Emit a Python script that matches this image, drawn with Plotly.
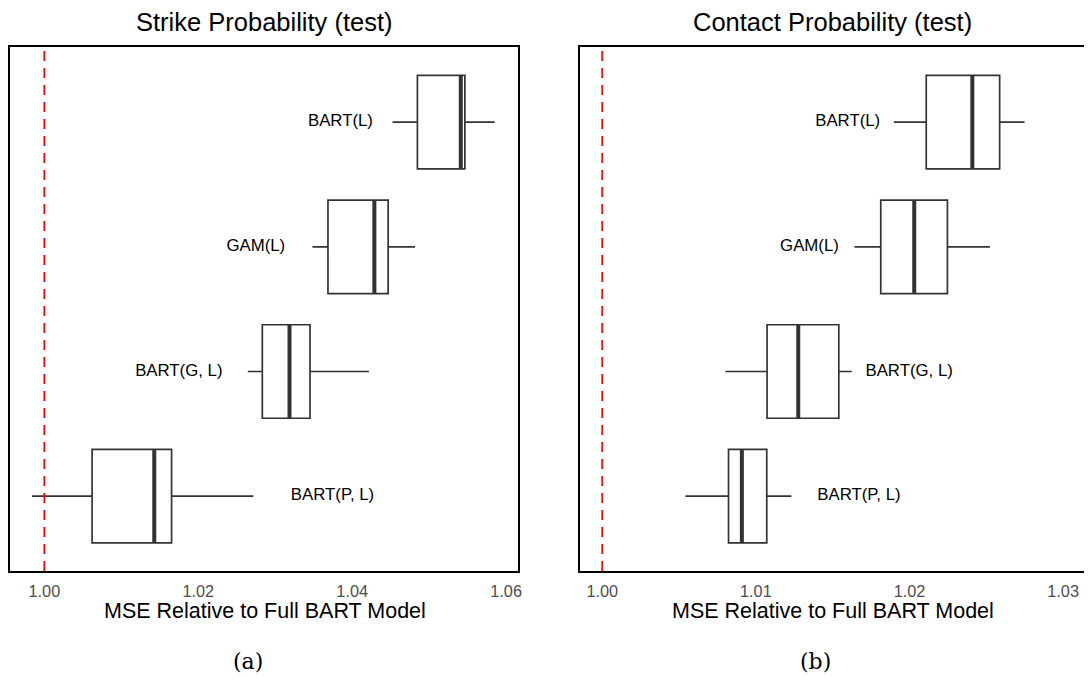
import plotly.graph_objects as go

# ---------------- data ----------------
categories = ["BART(P, L)", "BART(G, L)", "GAM(L)", "BART(L)"]  # bottom -> top
cat_pos = [1, 2, 3, 4]

strike_lower = [0.99839, 1.02644, 1.03484, 1.04525]
strike_q1 = [1.00620, 1.02832, 1.03685, 1.04847]
strike_median = [1.01428, 1.03185, 1.04288, 1.05411]
strike_q3 = [1.01653, 1.03452, 1.04467, 1.05464]
strike_upper = [1.02716, 1.04217, 1.04816, 1.05852]
strike_label_x = [1.03744, 1.01747, 1.02748, 1.03847]

contact_lower = [1.00542, 1.00802, 1.01642, 1.01898]
contact_q1 = [1.00822, 1.01073, 1.01813, 1.02109]
contact_median = [1.00909, 1.01276, 1.02031, 1.02409]
contact_q3 = [1.01071, 1.01540, 1.02247, 1.02587]
contact_upper = [1.01231, 1.01624, 1.02524, 1.02749]
contact_label_x = [1.01671, 1.01998, 1.01349, 1.01598]

strike_ticks = [1.00, 1.02, 1.04, 1.06]
strike_ticktext = ["1.00", "1.02", "1.04", "1.06"]
contact_ticks = [1.00, 1.01, 1.02, 1.03]
contact_ticktext = ["1.00", "1.01", "1.02", "1.03"]

reference_mse = 1.0

panel_titles = ["Strike Probability (test)", "Contact Probability (test)"]
x_title = "MSE Relative to Full BART Model"
sub_captions = ["(a)", "(b)"]

# ---------------- figure ----------------
W, H = 1088, 678
BOX_W = 0.75
BOX_COLOR = "#333333"
FONT = "Liberation Sans, Arial, Helvetica, sans-serif"

fig = go.Figure()

panels = [
    dict(xa="x", ya="y", lo=strike_lower, q1=strike_q1, md=strike_median,
         q3=strike_q3, up=strike_upper, lab=strike_label_x),
    dict(xa="x2", ya="y2", lo=contact_lower, q1=contact_q1, md=contact_median,
         q3=contact_q3, up=contact_upper, lab=contact_label_x),
]

for p in panels:
    fig.add_trace(go.Box(
        y=cat_pos, q1=p["q1"], median=p["md"], q3=p["q3"],
        lowerfence=p["lo"], upperfence=p["up"],
        orientation="h", width=BOX_W, whiskerwidth=0,
        fillcolor="white", line=dict(color=BOX_COLOR, width=1.7),
        boxpoints=False, showlegend=False, hoverinfo="skip",
        xaxis=p["xa"], yaxis=p["ya"],
    ))
    # thick median lines (ggplot fatten)
    mx, my = [], []
    for c, m in zip(cat_pos, p["md"]):
        mx += [m, m, None]
        my += [c - BOX_W / 2, c + BOX_W / 2, None]
    fig.add_trace(go.Scatter(
        x=mx, y=my, mode="lines", line=dict(color=BOX_COLOR, width=4),
        showlegend=False, hoverinfo="skip", xaxis=p["xa"], yaxis=p["ya"],
    ))
    # category labels
    fig.add_trace(go.Scatter(
        x=p["lab"], y=cat_pos, mode="text", text=categories,
        textfont=dict(family=FONT, size=16.8, color="black"),
        textposition="middle center",
        showlegend=False, hoverinfo="skip", xaxis=p["xa"], yaxis=p["ya"],
    ))
    # reference line
    fig.add_shape(type="line", xref=p["xa"], yref=p["ya"] + " domain",
                  x0=reference_mse, x1=reference_mse, y0=0, y1=1,
                  line=dict(color="red", width=1.8, dash="10px,7px"), layer="above")

y_dom = [(H - 571) / H, (H - 47.3) / H]
axis_common = dict(showgrid=False, zeroline=False, ticks="",
                   tickfont=dict(family=FONT, size=16.3, color="#4d4d4d"))

fig.update_layout(
    width=W, height=H,
    margin=dict(l=0, r=0, t=0, b=0),
    paper_bgcolor="white", plot_bgcolor="white",
    hovermode=False,
    xaxis=dict(domain=[10 / W, 519.5 / W], range=[0.99553, 1.06149],
               tickvals=strike_ticks, ticktext=strike_ticktext,
               showline=True, linecolor="black", linewidth=2, mirror=True,
               ticklabelstandoff=4, anchor="y", **axis_common),
    yaxis=dict(domain=y_dom, range=[0.4, 4.6], showticklabels=False,
               showline=True, linecolor="black", linewidth=2, mirror=True,
               anchor="x", **axis_common),
    xaxis2=dict(domain=[582 / W, 1.0], range=[0.998544, 1.03136],
                tickvals=contact_ticks, ticktext=contact_ticktext,
                showline=True, linecolor="black", linewidth=2, mirror=True,
                ticklabelstandoff=4, anchor="y2", **axis_common),
    yaxis2=dict(domain=y_dom, range=[0.4, 4.6], showticklabels=False,
                showline=True, linecolor="black", linewidth=2, mirror=False,
                anchor="x2", **axis_common),
)

annos = []
for cx, t in zip([265 / W, 835.4 / W], panel_titles):
    annos.append(dict(x=cx, y=1 - 22 / H, xref="paper", yref="paper", text=t,
                      showarrow=False, xanchor="center", yanchor="middle",
                      font=dict(family=FONT, size=25.5, color="black")))
for cx in [265.5 / W, 836 / W]:
    annos.append(dict(x=cx, y=1 - 611 / H, xref="paper", yref="paper", text=x_title,
                      showarrow=False, xanchor="center", yanchor="middle",
                      font=dict(family=FONT, size=21.5, color="black")))
for cx, t in zip([249 / W, 819 / W], sub_captions):
    annos.append(dict(x=cx, y=1 - 661 / H, xref="paper", yref="paper", text=t,
                      showarrow=False, xanchor="center", yanchor="middle",
                      font=dict(family="DejaVu Serif, Liberation Serif, serif", size=22, color="black")))
fig.update_layout(annotations=annos)

fig.write_html("out.html", config={"displayModeBar": False},
               post_script="document.body.style.margin='0';document.body.style.overflow='hidden';")
